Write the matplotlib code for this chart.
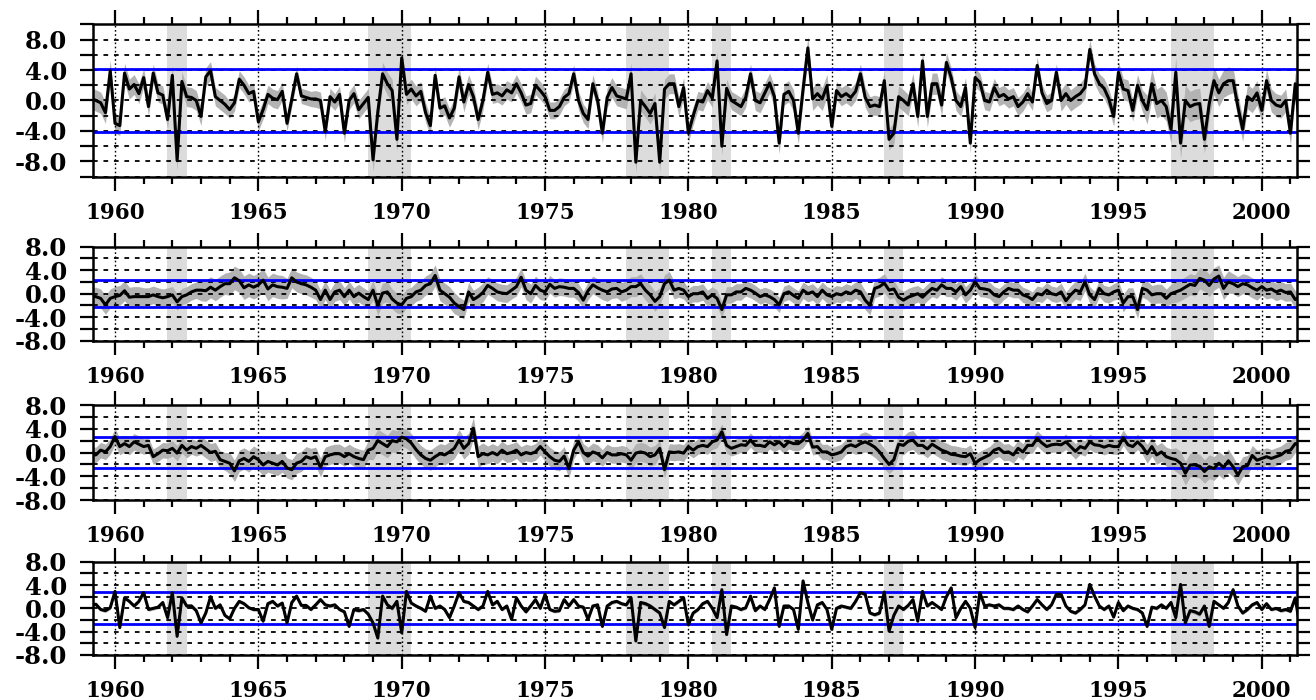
import numpy as np
import matplotlib
matplotlib.use("Agg")
import matplotlib.pyplot as plt
from matplotlib.ticker import MultipleLocator, FuncFormatter

plt.rcParams['font.family'] = ['DejaVu Serif']
plt.rcParams['font.weight'] = 'bold'
plt.rcParams['axes.unicode_minus'] = False

# bi-monthly samples (Jan, Mar, May, Jul, Sep, Nov), one row per year from 1959
start_year = 1959

series1 = [
    0.0, 0.3, 0.0, -0.3, -1.6, 3.9,
    -3.0, -3.3, 3.6, 1.5, 2.1, 0.9,
    3.0, -0.8, 3.6, 1.0, 0.7, -2.5,
    3.3, -7.9, 2.5, 0.5, 0.4, 0.0,
    -2.1, 3.1, 3.9, 0.5, 0.0, -0.5,
    -1.2, -0.3, 2.8, 2.0, 0.9, 1.2,
    -2.8, -1.2, 0.8, 0.3, 0.1, 1.2,
    -3.0, 0.2, 3.5, 0.6, 0.4, 0.2,
    0.2, 0.0, -4.1, 0.5, -0.2, 0.8,
    -4.3, 0.0, 0.9, -1.2, -0.4, 0.4,
    -7.8, -1.5, 3.5, 2.2, 1.3, -5.1,
    5.6, 0.8, 1.5, 0.6, 1.2, -1.6,
    -3.3, 3.3, -1.0, -0.7, -2.3, -1.0,
    3.1, -0.2, 2.1, 0.5, -2.5, 0.0,
    3.7, 0.8, 1.0, 0.6, 1.4, 1.0,
    2.2, 1.0, -0.6, -0.4, 2.0, 1.3,
    0.5, -1.3, -1.3, -0.8, 0.4, 0.9,
    3.5, 0.0, -1.7, -2.5, 2.2, 0.0,
    -4.3, 0.4, 1.7, 0.6, 0.4, 0.2,
    3.5, -8.1, 0.0, -0.8, -1.7, -0.4,
    -8.1, 1.5, 2.2, 2.2, -0.8, 1.7,
    -4.3, -2.0, 0.0, -0.2, 1.3, 0.3,
    5.2, -6.0, 1.6, 0.0, -0.4, -0.8,
    0.4, 3.5, 0.0, -0.3, 1.0, 2.3,
    0.5, -5.6, 0.8, 1.2, 0.0, -4.3,
    1.5, 6.9, 0.2, 0.9, 0.2, 1.9,
    -3.4, 1.3, 0.5, 0.9, 0.4, 1.2,
    3.5, 0.4, -0.8, -0.6, -0.8, 2.6,
    -5.1, -4.3, 0.5, 0.0, -0.6, 2.2,
    -2.1, 5.2, -2.1, 2.2, 2.2, -0.6,
    5.0, 3.0, 0.0, -0.8, 1.7, -5.6,
    3.0, 2.4, 0.0, -0.2, 1.7, 0.5,
    0.8, 0.2, 0.5, -0.8, -0.2, 0.9,
    -0.2, 4.6, 1.0, -0.4, 0.0, 3.7,
    0.0, 0.9, 0.0, 0.5, 0.9, 1.7,
    6.7, 3.5, 2.2, 1.6, 0.2, -2.1,
    3.7, 1.5, 1.3, -1.3, 2.0, 0.0,
    -1.2, 2.2, -0.4, 0.0, -0.8, -3.8,
    3.7, -5.6, 0.0, -0.8, -0.5, -0.4,
    -5.1, -0.4, 2.6, 1.0, 2.2, 2.6,
    2.6, -0.8, -3.8, 0.5, 0.0, 1.0,
    -1.3, 2.6, 0.0, -0.6, -0.8, 0.0,
    -4.3, 2.2, -3.8,
]

series2 = [
    -0.3, -0.5, -0.5, -0.8, -1.9, -0.8,
    -0.5, -0.3, 0.5, -0.6, -0.5, -0.5,
    -0.5, -0.5, -0.2, -0.5, -0.7, -0.5,
    -0.2, -1.4, -0.5, -0.2, 0.3, 0.6,
    0.6, 0.5, 1.1, 0.6, 1.2, 1.7,
    1.7, 2.7, 2.2, 1.0, 1.5, 1.1,
    1.5, 2.3, 0.8, 1.5, 1.2, 1.1,
    0.9, 2.7, 2.0, 1.7, 1.5, 1.1,
    0.6, -1.0, 0.6, -1.0, 0.3, 0.6,
    -0.5, 0.6, -0.5, 0.1, -0.5, -1.0,
    0.6, -2.0, 0.1, 0.3, -0.9, -1.6,
    -1.9, -0.8, -0.5, 0.3, 0.6, 1.4,
    1.7, 3.1, 0.6, 0.0, -0.6, -1.6,
    -2.2, -2.7, 0.3, -1.0, -0.5, 0.2,
    1.4, 0.9, 0.3, 0.1, 0.0, 0.6,
    1.2, 2.8, 0.6, 0.0, 1.4, 0.6,
    0.3, 1.6, 0.9, 1.2, 1.1, 0.9,
    0.9, 0.2, -1.1, 0.5, 1.5, 1.0,
    0.6, 0.3, 0.8, 0.9, 0.3, 0.6,
    1.2, 1.2, 1.7, 0.6, -0.2, -1.3,
    -0.5, 1.7, 2.3, 0.6, 0.9, 0.6,
    -0.5, 0.0, 0.0, 0.3, -0.8, -0.2,
    -0.8, -2.7, -0.2, -0.2, 0.3, 0.3,
    0.9, 0.6, 0.1, -0.5, -0.2, -0.5,
    -1.0, -1.9, 0.0, 0.3, -0.3, -0.8,
    0.6, 0.0, 0.3, -0.5, 0.6, -0.2,
    -0.5, 0.0, -0.2, 0.3, 0.0, 0.6,
    0.3, -1.1, -2.0, 0.9, 1.2, 1.8,
    0.6, 0.8, -0.6, -1.1, -0.6, -0.3,
    0.0, -0.6, 0.2, 0.9, 0.6, 1.5,
    0.9, 0.9, 0.3, 1.2, -0.2, 0.6,
    2.0, 0.9, 0.8, 0.6, -0.2, -0.5,
    0.3, 0.9, 0.6, 0.6, -0.2, -0.5,
    -1.0, 0.0, -0.2, 0.6, 0.0, -0.2,
    0.3, -1.2, -0.2, 0.6, 0.3, 2.0,
    -0.2, -1.0, 0.9, 0.0, -0.2, 0.3,
    0.6, -1.6, -0.5, -0.5, -2.7, 0.9,
    0.6, -0.2, 0.0, 0.0, -0.8, 0.0,
    0.3, 0.6, 1.1, 1.6, 1.4, 2.6,
    2.3, 1.4, 2.5, 3.0, 0.9, 2.0,
    1.7, 1.2, 1.7, 1.5, 1.0, 0.6,
    1.2, 0.6, 0.8, 0.3, 0.6, 0.2,
    0.3, -1.0, -0.5,
]

series3 = [
    -0.4, -0.4, -0.4, 0.4, 0.1, 1.0,
    2.7, 1.0, 1.5, 1.0, 1.8, 1.4,
    1.0, 1.2, -0.7, -0.2, 0.4, 0.3,
    0.7, -0.1, 1.2, 0.4, 1.0, 0.7,
    1.2, 0.6, 0.0, 0.2, -1.2, -1.5,
    -1.8, -3.1, -1.4, -1.0, -1.5, -0.7,
    -1.2, -2.1, -1.5, -1.8, -2.1, -1.5,
    -2.6, -2.9, -1.8, -1.5, -0.7, -1.0,
    -0.7, -2.5, -0.7, -0.4, -0.2, -0.2,
    -0.7, -0.2, -0.7, -1.0, -1.2, 0.4,
    0.7, 2.0, 1.5, 1.0, 2.0, 1.8,
    2.6, 2.3, 1.6, 0.5, -0.4, -1.0,
    -1.3, -0.7, -0.2, -0.4, 0.1, 0.7,
    2.1, 0.7, 1.5, 4.1, -0.7, -0.2,
    -0.4, 0.0, -0.4, 0.4, -0.2, 0.0,
    0.4, -0.4, 0.0, -0.2, 0.1, 1.0,
    0.1, -0.7, -1.3, -1.5, -0.6, -2.7,
    0.4, 1.8, 0.0, -0.6, 0.1, -0.2,
    -0.9, 0.0, -0.4, -0.4, -0.2, -0.4,
    -1.3, -0.1, 0.1, -0.1, -0.7, -0.4,
    0.7, -2.9, 0.1, 0.0, 0.1, -0.1,
    1.0, 0.4, 1.0, 1.2, 1.0, 1.8,
    2.1, 3.5, 1.2, 0.7, 1.0, 1.3,
    1.2, 2.1, 1.2, 1.2, 1.0, 1.8,
    1.3, 1.8, 1.0, 1.8, 1.5, 1.5,
    2.1, 3.2, 0.9, 1.0, 0.1, 0.1,
    -0.4, -0.2, 0.1, 1.0, 1.3, 1.0,
    1.5, 1.8, 1.4, 0.9, 0.1, -1.0,
    -2.0, -1.2, 1.4, 1.2, 1.9, 2.1,
    1.2, 1.2, 0.6, 1.4, 0.9, 0.4,
    0.1, -0.3, -0.4, -0.6, -0.7, -0.2,
    -1.8, -1.2, -0.8, -0.4, 0.4, 0.7,
    0.0, 0.1, -0.4, 0.7, 0.1, 1.2,
    1.2, 2.4, 1.6, 1.0, 1.3, 1.4,
    1.3, 1.8, 1.0, 0.2, 1.0, 0.7,
    1.8, 1.3, 1.2, 0.9, 1.2, 1.0,
    1.0, 2.5, 1.3, 1.0, 1.8, 1.0,
    -0.2, 1.0, -0.4, 0.1, -0.7, -1.0,
    -1.2, -1.8, -3.5, -2.1, -2.1, -2.3,
    -3.2, -2.4, -2.7, -1.8, -2.5, -1.4,
    -2.4, -3.8, -2.4, -2.2, -0.5, -1.3,
    -1.0, -0.7, -1.0, -0.7, -0.4, 0.2,
    0.4, 1.5, 1.2,
]

series4 = [
    0.5, 0.6, 0.7, -0.2, -0.4, 0.1,
    2.9, -3.3, 1.8, 1.2, 0.4, 1.2,
    2.7, -0.2, 0.0, 0.2, 1.0, -1.6,
    2.7, -4.8, 1.8, 0.4, 0.4, -0.4,
    -2.5, -0.8, 2.0, 0.0, 0.6, -1.2,
    -1.8, 0.0, 1.2, 0.8, 0.1, -0.2,
    -0.2, -2.2, 0.8, 1.2, 0.4, 0.9,
    -2.5, 1.0, 2.1, 0.5, 0.5, -0.2,
    0.6, 1.5, 0.6, 0.4, 0.6, -0.2,
    -0.6, -3.1, -0.2, -0.4, -0.2, -1.0,
    -2.5, -5.1, 2.1, 0.6, 0.0, 1.2,
    -4.2, 2.9, 0.9, 0.4, 0.0, -0.5,
    2.1, 0.0, 0.4, -0.2, -1.6, 0.4,
    2.7, 1.2, 1.0, 0.4, -0.2, 0.4,
    2.9, 0.6, 1.2, -0.2, 0.4, -1.9,
    1.8, 0.4, -0.6, 0.4, 1.5, 0.0,
    2.4, -0.2, -0.5, -0.4, 1.5, 0.4,
    1.5, 0.4, 0.2, -1.9, 0.4, 0.6,
    -3.1, 0.4, 1.0, 1.2, 0.8, 0.6,
    1.8, -5.6, 1.0, 0.8, 0.4, -0.2,
    -0.8, -3.3, 1.2, 0.6, 1.2, 1.8,
    -2.8, -0.8, -0.2, 0.8, 1.2, 0.0,
    -1.6, 3.2, -4.5, 0.4, 0.2, -0.2,
    0.1, 2.1, -0.4, 0.4, -0.2, 1.5,
    3.5, -3.1, 0.4, 0.4, -0.2, -3.6,
    4.7, 1.0, -2.0, 0.6, 1.0, -0.2,
    -3.6, 0.0, 0.4, 0.2, 0.0, 1.2,
    2.7, 2.4, -0.8, -1.1, -0.8, 2.8,
    -3.9, -1.2, 0.4, -0.2, 0.5, 1.5,
    -2.2, 2.9, 0.4, 1.0, 0.4, -0.2,
    2.0, 3.5, -1.6, 0.0, 1.2, 0.0,
    -3.3, 2.7, 0.4, 0.6, 0.4, 0.6,
    0.0, 0.0, -0.2, 0.4, -0.2, -0.6,
    0.4, 1.5, 0.6, -0.2, 0.6, 2.4,
    2.4, 0.4, -0.5, -0.8, -0.2, 0.6,
    4.1, 2.1, 0.4, -0.2, 0.4, -1.5,
    1.0, -0.4, 0.4, 0.0, -0.2, -0.8,
    -3.1, 0.2, 0.0, 0.6, 0.0, 1.0,
    -1.6, 4.1, -2.5, -0.4, -0.6, -1.0,
    0.4, -3.1, 1.2, 0.6, 0.0, 1.0,
    3.2, 0.4, -0.8, -0.2, 0.6, 1.0,
    -0.2, 0.8, -0.2, 0.0, -0.4, -0.2,
    -0.5, 1.8, -3.3,
]

# half width of the grey range, one value per year 1959-2001
spread1 = [1.4, 1.3, 1.2, 1.3, 1.2, 1.1, 1.2, 1.0, 1.1, 1.2, 1.5, 1.3, 1.2, 1.3, 1.2,
           1.2, 1.1, 1.2, 1.3, 1.4, 1.3, 1.2, 1.2, 1.3, 1.4, 1.5, 1.2, 1.3, 1.4, 1.4,
           1.3, 1.2, 1.2, 1.1, 1.4, 1.3, 1.4, 1.9, 2.0, 1.8, 1.6, 1.5, 1.5]
spread2 = [1.6, 1.7, 1.5, 1.4, 1.8, 2.0, 2.0, 1.7, 1.6, 1.5, 1.7, 1.6, 1.8, 1.6, 1.5,
           1.6, 1.5, 1.5, 1.6, 1.7, 1.5, 1.4, 1.4, 1.3, 1.3, 1.4, 1.4, 1.6, 1.5, 1.4,
           1.4, 1.4, 1.3, 1.3, 1.5, 1.4, 1.5, 1.6, 1.8, 1.9, 1.7, 1.5, 1.5]
spread3 = [1.3, 1.4, 1.3, 1.3, 1.5, 1.8, 1.8, 1.7, 1.6, 1.6, 1.9, 1.6, 1.7, 1.8, 1.5,
           1.4, 1.6, 1.5, 1.4, 1.6, 1.4, 1.3, 1.3, 1.2, 1.2, 1.3, 1.3, 1.7, 1.6, 1.5,
           1.5, 1.4, 1.4, 1.3, 1.3, 1.3, 1.3, 1.6, 2.0, 2.0, 1.7, 1.5, 1.5]
spread4 = [0.3, 0.3, 0.3, 0.4, 0.3, 0.3, 0.3, 0.3, 0.3, 0.3, 0.4, 0.3, 0.3, 0.3, 0.3,
           0.3, 0.3, 0.3, 0.3, 0.4, 0.3, 0.3, 0.3, 0.3, 0.3, 0.3, 0.3, 0.3, 0.3, 0.3,
           0.3, 0.3, 0.3, 0.3, 0.3, 0.3, 0.3, 0.3, 0.4, 0.3, 0.3, 0.3, 0.3]

thresholds = [4.15, 2.25, 2.55, 2.75]
ylimits = [10, 8, 8, 8]

event_start = [1961.83, 1968.83, 1977.83, 1980.83, 1986.83, 1996.83]
event_end = [1962.5, 1970.33, 1979.33, 1981.5, 1987.5, 1998.33]

all_series = [series1, series2, series3, series4]
all_spread = [spread1, spread2, spread3, spread4]

fig = plt.figure(figsize=(13.16, 7.0), dpi=100)
left, right = 0.0704, 0.9856
boxes = [(0.9653, 0.7476), (0.6476, 0.5133), (0.4214, 0.2857), (0.1976, 0.0643)]

for vals, spread, thr, ylim, (top, bottom) in zip(all_series, all_spread, thresholds, ylimits, boxes):
    ax = fig.add_axes([left, bottom, right - left, top - bottom])
    vals = np.array(vals)
    t = start_year + np.arange(len(vals)) / 6.0
    env = np.repeat(spread, 6)[:len(vals)]

    for a, b in zip(event_start, event_end):
        ax.axvspan(a, b, color='#dcdcdc', lw=0, zorder=0)
    ax.fill_between(t, vals - env, vals + env, color='#b3b3b3', lw=0, zorder=1)
    ax.axhline(thr, color='#0000ff', lw=2.0, zorder=3)
    ax.axhline(-thr, color='#0000ff', lw=2.0, zorder=3)
    ax.plot(t, vals, color='black', lw=2.2, zorder=4)

    ax.set_xlim(1959.22, 2001.23)
    ax.set_ylim(-ylim, ylim)

    ax.xaxis.set_major_locator(MultipleLocator(5))
    ax.xaxis.set_minor_locator(MultipleLocator(1))
    ax.yaxis.set_major_locator(MultipleLocator(4))
    ax.yaxis.set_minor_locator(MultipleLocator(2))
    ax.yaxis.set_major_formatter(FuncFormatter(lambda v, p: f"{v:.1f}"))

    ax.grid(axis='x', which='major', color='black', lw=1.0, linestyle=(0, (1.2, 1.8)))
    ax.grid(axis='y', which='both', color='black', lw=1.3, linestyle=(0, (2.6, 3.2)))

    ax.tick_params(axis='both', which='both', direction='out', width=1.6, color='black')
    ax.tick_params(axis='x', which='major', length=10, top=True, bottom=True,
                   labelsize=15.5, pad=8)
    ax.tick_params(axis='x', which='minor', length=5, top=True, bottom=True)
    ax.tick_params(axis='y', which='both', length=9.5, left=True, right=True)
    ax.tick_params(axis='y', which='major', labelsize=17.5, pad=9)

    for lab in ax.get_xticklabels() + ax.get_yticklabels():
        lab.set_fontweight('bold')
    for sp in ax.spines.values():
        sp.set_linewidth(1.8)
        sp.set_zorder(5)

fig.savefig('out.png', dpi=100)
